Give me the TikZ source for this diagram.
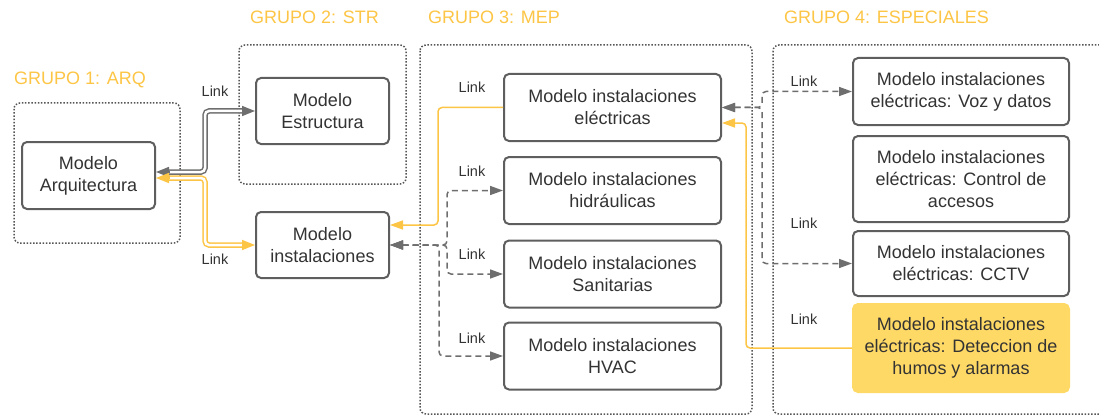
\documentclass[tikz,border=0pt]{standalone}
\usepackage{fontspec}
\setmainfont{Liberation Sans}
\usepackage{tikz}
\usetikzlibrary{arrows.meta}

\definecolor{amarillo}{HTML}{FDC545}
\definecolor{relleno}{HTML}{FFD966}
\definecolor{borde}{HTML}{5E5E5E}
\definecolor{texto}{HTML}{333333}
\definecolor{punteo}{HTML}{555555}

\tikzset{
  modelo/.style={draw=borde,line width=2pt,rounded corners=5pt,fill=white,align=center,
    text=texto,inner sep=0pt,font=\fontsize{18}{22}\selectfont},
  grupo/.style={draw=punteo,line width=1.5pt,dash pattern=on 1.5pt off 1.7pt,rounded corners=6pt},
  titulo/.style={text=amarillo,anchor=west,inner sep=0pt,font=\fontsize{18}{22}\selectfont},
  lnk/.style={text=texto,font=\fontsize{14.5}{16}\selectfont},
  dlink/.style={draw=borde!90,line width=1.5pt,dash pattern=on 6pt off 4pt,rounded corners=4pt,
    {Triangle[length=13pt,width=9pt]}-{Triangle[length=13pt,width=9pt]}},
  ylink/.style={draw=amarillo,line width=1.5pt,rounded corners=4pt,-{Triangle[length=13pt,width=9pt]}},
  dbl/.style={line width=1.5pt,double=white,double distance=2.5pt,rounded corners=4pt,
    shorten <=11pt,shorten >=11pt},
  dtip/.style={line width=1.5pt,-{Triangle[length=13pt,width=10pt]}}
}

\begin{document}
\begin{tikzpicture}[x=1pt,y=-1pt]
\useasboundingbox (0,0) rectangle (1099,417);

% grupos
\draw[grupo] (14,103) rectangle (180,243);
\draw[grupo] (239,45) rectangle (406,184);
\draw[grupo] (420,45) rectangle (752,414);
\draw[grupo] (773,45) rectangle (1115,414);
\node[titulo] (g1) at (14,80) {GRUPO 1: ARQ};
\node[titulo] (g2) at (250,17) {GRUPO 2: STR};
\node[titulo] (g3) at (428,17) {GRUPO 3: MEP};
\node[titulo] (g4) at (784,17) {GRUPO 4: ESPECIALES};

% modelos
\node[modelo,minimum width=133pt,minimum height=67pt] (arq) at (88.5,175.5) {Modelo\\Arquitectura};
\node[modelo,minimum width=133pt,minimum height=66pt] (estr) at (322.5,111) {Modelo\\Estructura};
\node[modelo,minimum width=133pt,minimum height=66pt] (inst) at (322.5,245) {Modelo\\instalaciones};
\foreach \n/\y/\t in {elec/107.5/eléctricas,hidr/190.5/hidráulicas,sani/274/Sanitarias,hvac/356/HVAC}{
  \node[modelo,minimum width=217pt,minimum height=67pt] (\n) at (612.5,\y) {Modelo instalaciones\\\t};
}
\node[modelo,minimum width=216pt,minimum height=67pt] (voz) at (961,91.5) {Modelo instalaciones\\eléctricas: Voz y datos};
\node[modelo,minimum width=216pt,minimum height=86pt] (ctrl) at (961,179) {Modelo instalaciones\\eléctricas: Control de\\accesos};
\node[modelo,minimum width=216pt,minimum height=65pt] (cctv) at (961,263.5) {Modelo instalaciones\\eléctricas: CCTV};
\node[modelo,draw=relleno,fill=relleno,minimum width=216pt,minimum height=88pt] (detec) at (961,348) {Modelo instalaciones\\eléctricas: Deteccion de\\humos y alarmas};

% vinculos dobles
\draw[dbl,draw=borde!90] ([yshift=3.5pt]arq.east) -| (205,111) -- (estr.west);
\draw[dbl,draw=amarillo] ([yshift=-2.5pt]arq.east) -| (205,245) -- (inst.west);
\draw[dtip,draw=borde!90] ([xshift=-13pt]estr.west) -- (estr.west);
\draw[dtip,draw=borde!90] ([xshift=13pt,yshift=3.5pt]arq.east) -- ([yshift=3.5pt]arq.east);
\draw[dtip,draw=amarillo] ([xshift=-13pt]inst.west) -- (inst.west);
\draw[dtip,draw=amarillo] ([xshift=13pt,yshift=-2.5pt]arq.east) -- ([yshift=-2.5pt]arq.east);

% vinculos
\draw[ylink] (elec.west) -| (438,225) -- ([yshift=20pt]inst.east);
\foreach \n/\y in {hidr/190.5,sani/274}{
  \draw[dlink] (inst.east) -| (447,\y) -- (\n.west);
}
\draw[dlink] (inst.east) -| (439,356) -- (hvac.west);
\draw[dlink] (elec.east) -| (762,91.5) -- (voz.west);
\draw[dlink] (elec.east) -| (762,263.5) -- (cctv.west);
\draw[ylink] (detec.west) -| (746,123) -- ([yshift=-15.5pt]elec.east);

% etiquetas
\foreach \x/\y [count=\i] in {215/91,215/259,472/87,472/171,472/254,472/338,804/81,804/223,804/319}{
  \node[lnk] (link\i) at (\x,\y) {Link};
}
\end{tikzpicture}
\end{document}
